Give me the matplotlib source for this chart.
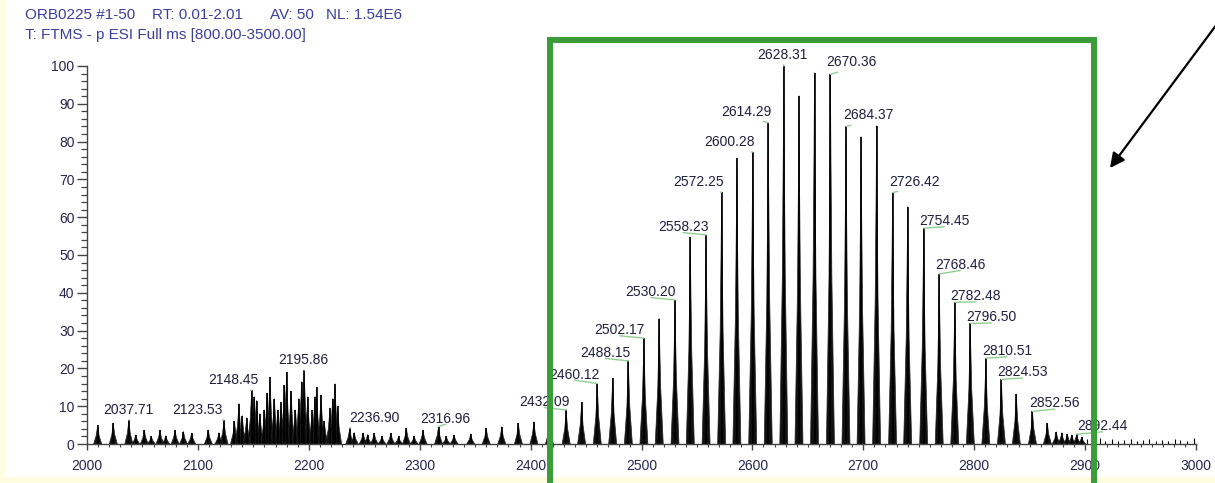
import matplotlib
matplotlib.use('Agg')
import matplotlib.pyplot as plt
from matplotlib.patches import Rectangle, FancyArrowPatch
from matplotlib.collections import PolyCollection
from matplotlib.ticker import MultipleLocator

W, H = 1215, 483

header_segments = ["ORB0225 #1-50", "RT: 0.01-2.01", "AV: 50", "NL: 1.54E6"]
header_line2 = "T: FTMS - p ESI Full ms [800.00-3500.00]"

# labelled peaks (m/z, relative intensity)
label_mz = [2037.71, 2123.53, 2148.45, 2195.86, 2236.90, 2316.96, 2432.09, 2460.12,
            2488.15, 2502.17, 2530.20, 2558.23, 2572.25, 2600.28, 2614.29, 2628.31,
            2670.36, 2684.37, 2726.42, 2754.45, 2768.46, 2782.48, 2796.50, 2810.51,
            2824.53, 2852.56, 2892.44]
label_int = [6.3, 6.3, 14.2, 19.5, 4.2, 4.6, 9.0, 16.0,
             22.0, 28.0, 38.1, 55.3, 66.6, 77.2, 85.0, 100.0,
             97.8, 84.0, 66.5, 57.1, 45.0, 37.5, 31.9, 22.7,
             17.1, 8.6, 2.6]

# unlabelled peaks
other_mz = [2009.6, 2023.7, 2044.0, 2051.7, 2058.0, 2065.8, 2071.0, 2079.4, 2087.0, 2094.4,
            2109.4, 2119.0, 2133.0, 2137.0, 2140.0, 2144.0, 2151.0, 2153.0, 2156.0, 2160.0,
            2162.5, 2165.0, 2169.0, 2172.0, 2175.0, 2178.0, 2180.0, 2184.0, 2188.0, 2191.0,
            2193.5, 2199.0, 2203.0, 2205.5, 2207.0, 2211.0, 2214.0, 2219.0, 2221.5, 2223.6,
            2226.0, 2241.0, 2249.0, 2253.0, 2259.0, 2266.0, 2274.0, 2281.0, 2288.0, 2295.0,
            2303.0, 2324.0, 2331.0, 2346.0, 2360.0, 2374.0, 2389.0, 2403.0, 2417.0,
            2446.0, 2474.0, 2516.0, 2544.0, 2586.0, 2642.0, 2656.0, 2698.0, 2712.0, 2740.0,
            2838.0, 2866.0, 2874.0, 2879.0, 2884.0, 2888.0, 2897.0]
other_int = [5.0, 5.5, 2.4, 3.7, 2.0, 3.7, 2.2, 3.7, 3.3, 2.9,
             3.7, 3.0, 6.0, 10.7, 7.5, 7.0, 12.5, 11.5, 8.0, 9.0,
             13.5, 17.7, 12.0, 9.0, 11.0, 15.5, 19.0, 14.0, 9.0, 12.0,
             16.5, 12.5, 9.0, 12.5, 15.0, 13.0, 6.0, 9.4, 12.0, 15.9,
             10.0, 3.0, 2.9, 2.5, 2.8, 2.0, 2.9, 2.0, 4.2, 2.0,
             3.7, 2.0, 2.4, 2.6, 4.2, 4.6, 5.5, 5.9, 5.5,
             11.0, 17.4, 33.2, 54.7, 75.6, 92.1, 98.2, 81.3, 84.2, 62.8,
             13.2, 5.5, 3.2, 3.0, 2.6, 2.4, 1.8]

# baseline noise sticks at the high-mass end
noise_mz = [2902, 2907, 2913, 2918, 2924, 2930, 2935, 2941, 2947, 2952,
            2958, 2964, 2969, 2975, 2981, 2986, 2992, 2998]
noise_int = [1.2, 0.8, 1.5, 0.9, 1.3, 0.7, 1.1, 1.4, 0.8, 1.0,
             1.3, 0.9, 1.1, 0.8, 1.2, 1.0, 0.7, 1.6]

x_ticks = [2000, 2100, 2200, 2300, 2400, 2500, 2600, 2700, 2800, 2900, 3000]
y_ticks = [0, 10, 20, 30, 40, 50, 60, 70, 80, 90, 100]

# label offsets (pixels) relative to each peak top -- layout only
label_dx = [0, -27, -18, -1, 25, 7, -22, -23, -23, -24, -24, -23, -23, -23, -22, -1,
            21, 22, 22, 21, 21, 21, 21, 21, 21, 22, 26]
label_dy = [10, 10, 10, 10, 10, 8, 8, 9, 8, 8, 8, 8, 10, 10, 11, 11,
            12, 11, 11, 7, 9, 6, 6, 7, 7, 8, 8]

FONT = ['Liberation Sans', 'DejaVu Sans']
plt.rcParams['font.family'] = FONT

fig = plt.figure(figsize=(W / 100, H / 100), dpi=100)
fig.patch.set_facecolor('#fffde0')
fig.patches.append(Rectangle((5 / W, 6 / H), 1, 1, transform=fig.transFigure,
                             facecolor='white', edgecolor='none', zorder=-10))

ax = fig.add_axes([87 / W, (H - 444) / H, 1109 / W, 378 / H])
ax.set_facecolor('none')

all_mz = label_mz + other_mz
all_int = label_int + other_int
polys = []
for m, h in zip(all_mz, all_int):
    polys.append([(m - 3.6, 0), (m - 1.3, 0.45 * h), (m - 0.4, 0.8 * h), (m, h),
                  (m + 0.4, 0.8 * h), (m + 1.3, 0.45 * h), (m + 3.6, 0)])
ax.add_collection(PolyCollection(polys, facecolor='#111111', edgecolor='#222222', linewidths=0.5))
ax.vlines(all_mz, 0, all_int, color='black', lw=1.2)
ax.vlines(noise_mz, 0, noise_int, color='black', lw=0.8)

tick_color = '#26264f'
for m, h, lab, dx, dy in zip(label_mz, label_int, [f"{v:.2f}" for v in label_mz], label_dx, label_dy):
    ax.annotate(lab, xy=(m, h), xytext=(dx, dy), textcoords='offset pixels',
                ha='center', va='center', fontsize=10, color='#1f1f3f',
                arrowprops=dict(arrowstyle='-', color='#8fd08f', lw=1.0,
                                shrinkA=0, shrinkB=0, relpos=(0.5, 0.1)),
                annotation_clip=False)

ax.set_xlim(2000, 3000)
ax.set_ylim(0, 100)
ax.set_xticks(x_ticks)
ax.set_yticks(y_ticks)
ax.xaxis.set_minor_locator(MultipleLocator(10))
ax.yaxis.set_minor_locator(MultipleLocator(2))
for s in ['top', 'right']:
    ax.spines[s].set_visible(False)
for s in ['left', 'bottom']:
    ax.spines[s].set_color('#444444')
    ax.spines[s].set_linewidth(1.0)
ax.tick_params(axis='y', which='major', length=7, width=1, color='#444444', pad=2,
               labelsize=10, labelcolor=tick_color)
ax.tick_params(axis='y', which='minor', length=4, width=0.9, color='#444444')
ax.tick_params(axis='x', which='major', length=4, width=1, color='#444444', pad=7,
               labelsize=10, labelcolor=tick_color)
ax.tick_params(axis='x', which='minor', length=2, width=0.8, color='#444444')

# header
header_x = [25, 152, 270, 326]
for xpos, seg in zip(header_x, header_segments):
    fig.text(xpos / W, 1 - 15 / H, seg, ha='left', va='center', fontsize=11, color='#3a3f9e')
fig.text(25 / W, 1 - 35 / H, header_line2, ha='left', va='center', fontsize=11, color='#3a3f9e')

# green highlight box
fig.patches.append(Rectangle((549.5 / W, -0.1), (1093.5 - 549.5) / W, 1.1 - 40 / H,
                             transform=fig.transFigure, fill=False,
                             edgecolor='#3a9d3a', lw=4.3, zorder=10))

# arrow
fig.patches.append(FancyArrowPatch((1217 / W, 1 - 24 / H), (1110 / W, 1 - 168 / H),
                                   transform=fig.transFigure, arrowstyle='-|>',
                                   mutation_scale=22, lw=1.6, color='black',
                                   shrinkA=0, shrinkB=0, zorder=11))

fig.savefig('out.png', dpi=100, facecolor=fig.get_facecolor())
